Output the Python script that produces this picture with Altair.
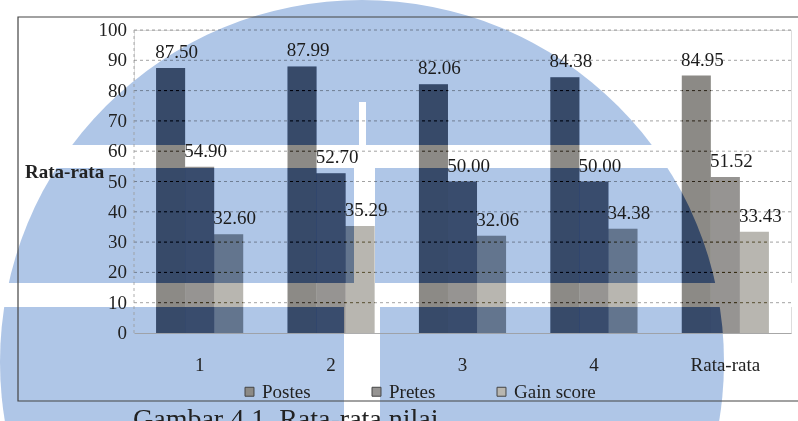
import altair as alt
import pandas as pd

# ---- data ----
categories = ["1", "2", "3", "4", "Rata-rata"]
series = ["Postes", "Pretes", "Gain score"]
postes = [87.50, 87.99, 82.06, 84.38, 84.95]
pretes = [54.90, 52.70, 50.00, 50.00, 51.52]
gain = [32.60, 35.29, 32.06, 34.38, 33.43]
y_ticks = [0, 10, 20, 30, 40, 50, 60, 70, 80, 90, 100]

rows = []
for i, cat in enumerate(categories):
    for name, vals in zip(series, [postes, pretes, gain]):
        rows.append({"kategori": cat, "seri": name, "nilai": vals[i]})
df = pd.DataFrame(rows)
tick_df = pd.DataFrame({"nilai": y_ticks})
grid_df = pd.DataFrame({"nilai": y_ticks[1:]})

W, H = 657, 303
SERIF = "Liberation Serif"
BLUE = "#afc6e7"
bar_gray = ["#8c8a86", "#969492", "#b8b6b0"]   # printed bar tones
bar_burn = ["#847b6f", "#80745e", "#ada07c"]   # deepening inside the emblem

one = alt.Data(values=[{}])

# ---- background emblem: blue disc with white bands ----
disc = alt.Chart(one).mark_arc(radius=362, theta=0, theta2=6.2832, color=BLUE).encode(
    x=alt.value(228), y=alt.value(332)
)

def band(x1, x2, y1, y2):
    return alt.Chart(one).mark_rect(color="white").encode(
        x=alt.value(x1), x2=alt.value(x2), y=alt.value(y1), y2=alt.value(y2)
    )

bands = [
    band(-134, 560, 115, 138),
    band(-134, 700, 253, 277),
    band(225, 232, 72, 115),
    band(220, 241, 138, 253),
    band(210, 246, 277, 400),
]

x_enc = alt.X(
    "kategori:N",
    sort=categories,
    scale=alt.Scale(paddingInner=0.337, paddingOuter=0.168),
    axis=alt.Axis(
        title=None, labelAngle=0, ticks=False, labelPadding=22,
        labelFont=SERIF, labelFontSize=19, labelColor="#222",
        domainColor="#999", domainWidth=0.8, zindex=1,
    ),
)
y_enc = alt.Y("nilai:Q", scale=alt.Scale(domain=[0, 100], nice=False), axis=None)
off = alt.XOffset("seri:N", sort=series)

# ---- grid and value axis ----
grid = alt.Chart(grid_df).mark_rule(
    color="#8a8a8a", strokeDash=[3, 3], strokeWidth=0.8, blend="multiply"
).encode(y=y_enc)

y_line = alt.Chart(one).mark_rule(
    color="#9a9a9a", strokeDash=[3, 3], strokeWidth=0.8
).encode(x=alt.value(0), y=alt.value(0), y2=alt.value(H))

y_labels = alt.Chart(tick_df).mark_text(
    font=SERIF, fontSize=19, color="#222", align="right", baseline="middle"
).encode(x=alt.value(-7), y=y_enc, text=alt.Text("nilai:Q", format="d"))

y_title = alt.Chart(one).mark_text(
    font=SERIF, fontSize=19, fontWeight="bold", color="#222",
    align="left", baseline="middle",
).encode(x=alt.value(-109), y=alt.value(142), text=alt.value("Rata-rata"))

# darkening pass, one layer per series
burn_layers = [
    alt.Chart(df).transform_filter(alt.datum.seri == name).mark_bar(
        blend="color-burn", color=col
    ).encode(x=x_enc, y=y_enc, xOffset=off)
    for name, col in zip(series, bar_burn)
]

bars = alt.Chart(df).mark_bar(blend="multiply").encode(
    x=x_enc, y=y_enc, xOffset=off,
    color=alt.Color(
        "seri:N",
        scale=alt.Scale(domain=series, range=bar_gray),
        legend=alt.Legend(
            title=None, orient="none", legendX=106, legendY=352,
            direction="horizontal", symbolType="square", symbolSize=80,
            symbolStrokeColor="#444", symbolStrokeWidth=1,
            labelFont=SERIF, labelFontSize=19, labelColor="#222",
            labelOffset=3, columnPadding=56,
        ),
    ),
)

labels = alt.Chart(df).mark_text(
    font=SERIF, fontSize=19, color="#1c1c1c", baseline="bottom", dx=6, dy=-6
).encode(
    x=alt.X("kategori:N", sort=categories), y=y_enc, xOffset=off,
    text=alt.Text("nilai:Q", format=".2f"),
)

frame = alt.Chart(one).mark_rect(fill=None, stroke="#444", strokeWidth=1.2).encode(
    x=alt.value(-116), x2=alt.value(690), y=alt.value(-13), y2=alt.value(371)
)

caption = alt.Chart(one).mark_text(
    font=SERIF, fontSize=28, color="#222", align="left", baseline="alphabetic"
).encode(x=alt.value(-1), y=alt.value(398), text=alt.value("Gambar 4.1. Rata-rata nilai"))

chart = alt.layer(
    disc, *bands, grid, y_line, *burn_layers, bars, labels,
    y_labels, y_title, frame, caption
).properties(
    width=W, height=H,
    padding={"left": 134, "top": 30, "right": 7, "bottom": 88},
    autosize=alt.AutoSizeParams(type="none"),
).configure_view(stroke=None).configure(background="white")

chart.save("out.html", embed_options={"renderer": "svg", "actions": False})
